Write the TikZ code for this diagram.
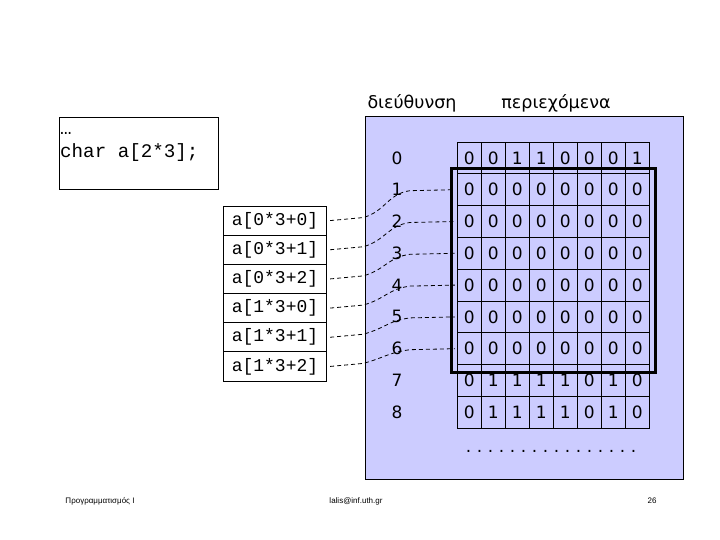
\documentclass[tikz,border=0pt]{standalone}
\usepackage{fontspec}
\newfontfamily\dvfont{DejaVu Sans}
\newfontfamily\monofont{Liberation Mono}
\newfontfamily\footfont{Liberation Sans}
\usetikzlibrary{calc}
\definecolor{panelblue}{RGB}{204,204,255}
\newcommand\onedot{.\kern5.6pt}
\newcommand\msp{\hbox to 0.6em{\hfil}}
\tikzset{
  cell/.style={draw, line width=0.8pt, minimum width=24pt, minimum height=31.8pt, inner sep=0pt, font=\dvfont\fontsize{17}{17}\selectfont},
  addr/.style={inner sep=0pt, font=\dvfont\fontsize{17}{17}\selectfont},
  abox/.style={draw, line width=0.8pt, minimum width=103.4pt, minimum height=29.17pt, inner sep=0pt, font=\monofont\fontsize{18}{18}\selectfont},
  conn/.style={dash pattern=on 4pt off 3pt, line width=0.8pt},
  hdr/.style={inner sep=0pt, font=\dvfont\fontsize{17.5}{17.5}\selectfont},
  codetext/.style={inner sep=0pt, anchor=base west, font=\monofont\fontsize{19.2}{19.2}\selectfont},
  foot/.style={inner sep=0pt, font=\footfont\fontsize{8}{8}\selectfont},
  selbox/.style={draw, line width=3pt, minimum width=204pt, minimum height=204pt, inner sep=0pt}
}
\begin{document}
\begin{tikzpicture}[x=1pt,y=-1pt]
\useasboundingbox (0,0) rectangle (720,540);
% panel
\node[draw, fill=panelblue, line width=0.8pt, anchor=north west, minimum width=318pt, minimum height=363pt, inner sep=0pt] (panel) at (365,116) {};
% grid
\foreach \r/\bits in {0/{0,0,1,1,0,0,0,1},1/{0,0,0,0,0,0,0,0},2/{0,0,0,0,0,0,0,0},3/{0,0,0,0,0,0,0,0},4/{0,0,0,0,0,0,0,0},5/{0,0,0,0,0,0,0,0},6/{0,0,0,0,0,0,0,0},7/{0,1,1,1,1,0,1,0},8/{0,1,1,1,1,0,1,0}}{
  \foreach \b [count=\c] in \bits {
    \node[cell] (c\r-\c) at ({469.3+24*(\c-1)}, {157.9+31.8*\r}) {\b};
  }
  \node[addr] (addr\r) at (397, {157.9+31.8*\r}) {\r};
}
% selected region
\node[selbox] (sel) at (553,270.5) {};
% array element boxes
\foreach \k/\t in {0/{a[0*3+0]},1/{a[0*3+1]},2/{a[0*3+2]},3/{a[1*3+0]},4/{a[1*3+1]},5/{a[1*3+2]}}{
  \node[abox] (a\k) at (275, {206+29.17*(\k+0.5)}) {\t};
}
% connectors
\foreach \k in {0,...,5}{
  \pgfmathtruncatemacro\r{\k+1}
  \draw[conn] ($(a\k.east)+(3,0)$) -- ++(33,-3) .. controls +(22,-6) and +(-22,3) .. ($(c\r-1.west)+(-47,1)$) -- ($(c\r-1.west)+(-2,0)$);
}
% headers
\node[hdr] (h1) at (412,103) {διεύθυνση};
\node[hdr] (h2) at (556,103) {περιεχόμενα};
% code box
\node[draw, line width=0.8pt, anchor=north west, minimum width=159pt, minimum height=72pt, inner sep=0pt] (codebox) at (59,117) {};
\node[codetext] (code1) at (60,135) {…};
\node[codetext] (code2) at (60,158) {char\msp a[2*3];};
% dots
\node[inner sep=0pt, font=\dvfont\fontsize{17}{17}\selectfont] (dots) at (551,451) {\onedot\onedot\onedot\onedot\onedot\onedot\onedot\onedot\onedot\onedot\onedot\onedot\onedot\onedot\onedot.};
% footer
\node[foot] (f1) at (100,501) {Προγραμματισμός Ι};
\node[foot] (f2) at (356,501) {lalis@inf.uth.gr};
\node[foot] (f3) at (652,501) {26};
\end{tikzpicture}
\end{document}
